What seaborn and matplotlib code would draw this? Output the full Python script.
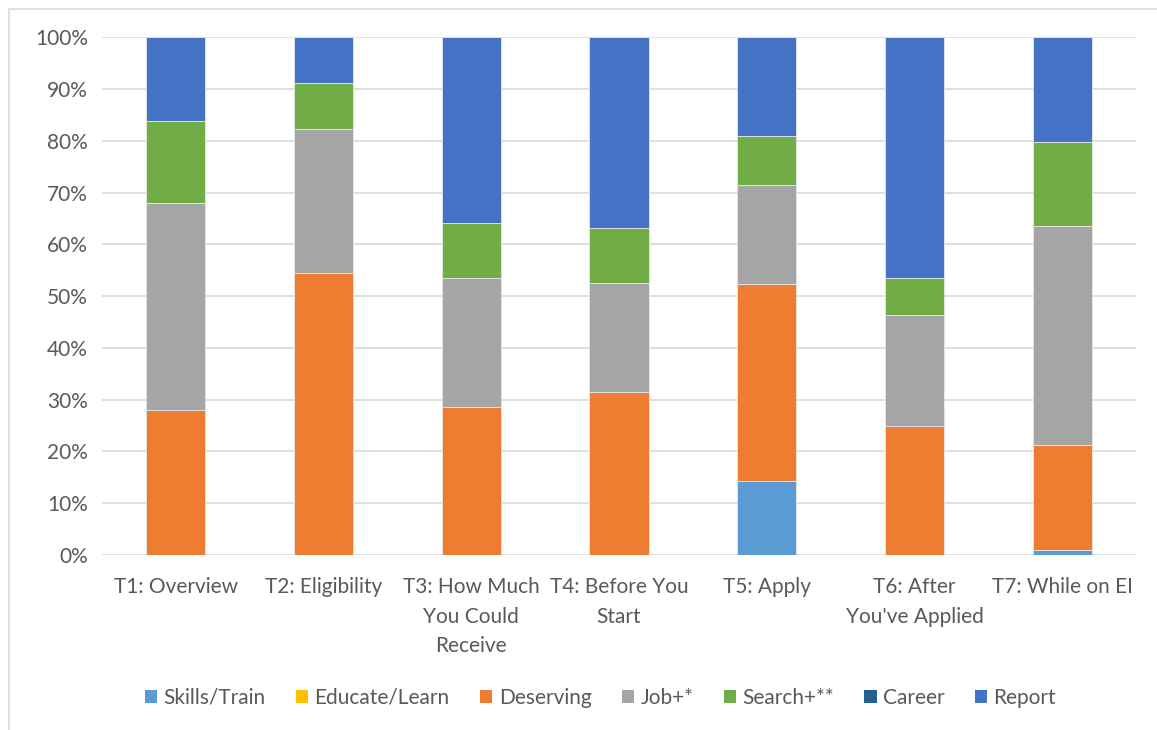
import numpy as np
import pandas as pd
import matplotlib
matplotlib.use("Agg")
import matplotlib.pyplot as plt
from matplotlib.patches import Patch
from matplotlib.lines import Line2D
import seaborn as sns

categories = ["T1: Overview", "T2: Eligibility", "T3: How Much\nYou Could\nReceive",
              "T4: Before You\nStart", "T5: Apply", "T6: After\nYou've Applied",
              "T7: While on EI"]

series_names = ["Skills/Train", "Educate/Learn", "Deserving", "Job+*", "Search+**", "Career", "Report"]

skills_train = [0.0, 0.0, 0.0, 0.0, 14.2, 0.0, 0.9]
educate_learn = [0.0, 0.0, 0.0, 0.0, 0.0, 0.0, 0.0]
deserving = [27.9, 54.4, 28.5, 31.5, 38.1, 24.9, 20.3]
job = [40.1, 27.9, 24.9, 21.0, 19.1, 21.4, 42.4]
search = [15.9, 8.9, 10.8, 10.6, 9.5, 7.2, 16.1]
career = [0.0, 0.0, 0.0, 0.0, 0.0, 0.0, 0.0]
report = [16.1, 8.8, 35.8, 36.9, 19.1, 46.5, 20.3]

colors = ["#5B9BD5", "#FFC000", "#ED7D31", "#A5A5A5", "#70AD47", "#255E91", "#4472C4"]

series = [skills_train, educate_learn, deserving, job, search, career, report]

sns.set_theme(style="white")
plt.rcParams["font.family"] = ["Lato", "DejaVu Sans"]

fig = plt.figure(figsize=(11.57, 7.30), dpi=100)
ax = fig.add_axes([0.088, 0.24, 0.894, 0.709])

bottom = np.zeros(len(categories))
for name, vals, col in zip(series_names, series, colors):
    df = pd.DataFrame({"cat": categories, "val": vals})
    sns.barplot(data=df, x="cat", y="val", order=categories, color=col,
                width=0.4, bottom=bottom.copy(), ax=ax, saturation=1,
                edgecolor="#E8E8E8", linewidth=0.6, errorbar=None)
    bottom += np.array(vals)

ax.set_ylim(0, 100)
ax.set_xlim(-0.5, len(categories) - 0.5)
ax.set_yticks(np.arange(0, 101, 10))
ax.set_yticklabels([f"{v}%" for v in range(0, 101, 10)])
ax.yaxis.grid(True, color="#D9D9D9", linewidth=1.2)
ax.set_axisbelow(True)
for s in ax.spines.values():
    s.set_visible(False)
ax.set_xlabel("")
ax.set_ylabel("")
ax.tick_params(axis="both", length=0, labelsize=15, colors="#595959", pad=10)
ax.tick_params(axis="x", pad=16)
for lbl in ax.get_xticklabels():
    lbl.set_linespacing(1.6)
    lbl.set_verticalalignment("top")

handles = [Patch(facecolor=c, edgecolor="none") for c in colors]
fig.legend(handles, series_names, loc="center", bbox_to_anchor=(0.519, 0.044), ncol=7,
           frameon=False, fontsize=15, handlelength=0.6, handleheight=0.6,
           handletextpad=0.3, columnspacing=1.45, labelcolor="#595959")

# outer chart frame (left and top edges)
fig.add_artist(Line2D([0.0078, 0.0078], [0.0, 0.988], transform=fig.transFigure,
                      color="#D9D9D9", linewidth=1.2))
fig.add_artist(Line2D([0.0078, 1.0], [0.988, 0.988], transform=fig.transFigure,
                      color="#D9D9D9", linewidth=1.2))

fig.savefig("out.png", dpi=100, facecolor="white")
